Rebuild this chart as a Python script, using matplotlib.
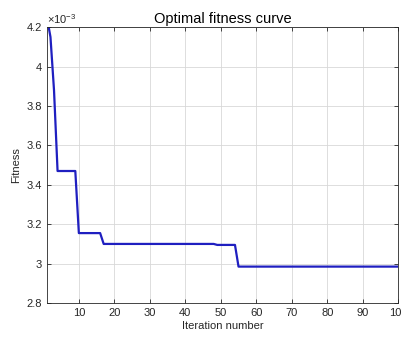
import numpy as np
import matplotlib
matplotlib.use("Agg")
import matplotlib.pyplot as plt
from matplotlib.ticker import FuncFormatter

# fitness levels (x1e-3) and how many iterations each lasts
levels = [4.25, 4.15, 3.88, 3.47, 3.155, 3.10, 3.095, 2.985]
counts = [1, 1, 1, 6, 7, 32, 6, 46]

fitness = np.repeat(np.array(levels) * 1e-3, counts)
iters = np.arange(1, len(fitness) + 1)

xticks = [10, 20, 30, 40, 50, 60, 70, 80, 90, 100]
yticks = [2.8e-3, 3.0e-3, 3.2e-3, 3.4e-3, 3.6e-3, 3.8e-3, 4.0e-3, 4.2e-3]

plt.rcParams['font.family'] = ['Liberation Sans', 'DejaVu Sans']
plt.rcParams['mathtext.fontset'] = 'custom'
plt.rcParams['mathtext.rm'] = 'Liberation Sans'
fig = plt.figure(figsize=(4.01, 3.39), dpi=100)
ax = fig.add_axes([0.117, 0.106, 0.876, 0.814])

ax.plot(iters, fitness, color='#1f1fc0', linewidth=1.6)

ax.set_xlim(1, 100)
ax.set_ylim(2.8e-3, 4.2e-3)
ax.set_xticks(xticks)
ax.set_yticks(yticks)
ax.yaxis.set_major_formatter(FuncFormatter(lambda v, p: '%g' % round(v * 1e3, 2)))

ax.grid(True, color='#d8d8d8', linewidth=0.6)
ax.set_axisbelow(True)
ax.tick_params(direction='in', top=True, right=True, length=3, width=0.6,
               labelsize=8, labelcolor='#262626', color='#262626')
for s in ax.spines.values():
    s.set_color('#262626')
    s.set_linewidth(0.6)

ax.text(0.0, 1.005, r'$\times10^{-3}$', transform=ax.transAxes, fontsize=8,
        color='#262626', ha='left', va='bottom')
ax.set_title('Optimal fitness curve', fontsize=10.5, pad=3)
ax.set_xlabel('Iteration number', fontsize=8, color='#262626', labelpad=2)
ax.set_ylabel('Fitness', fontsize=8, color='#262626', labelpad=4)

fig.savefig('out.png', dpi=100)
